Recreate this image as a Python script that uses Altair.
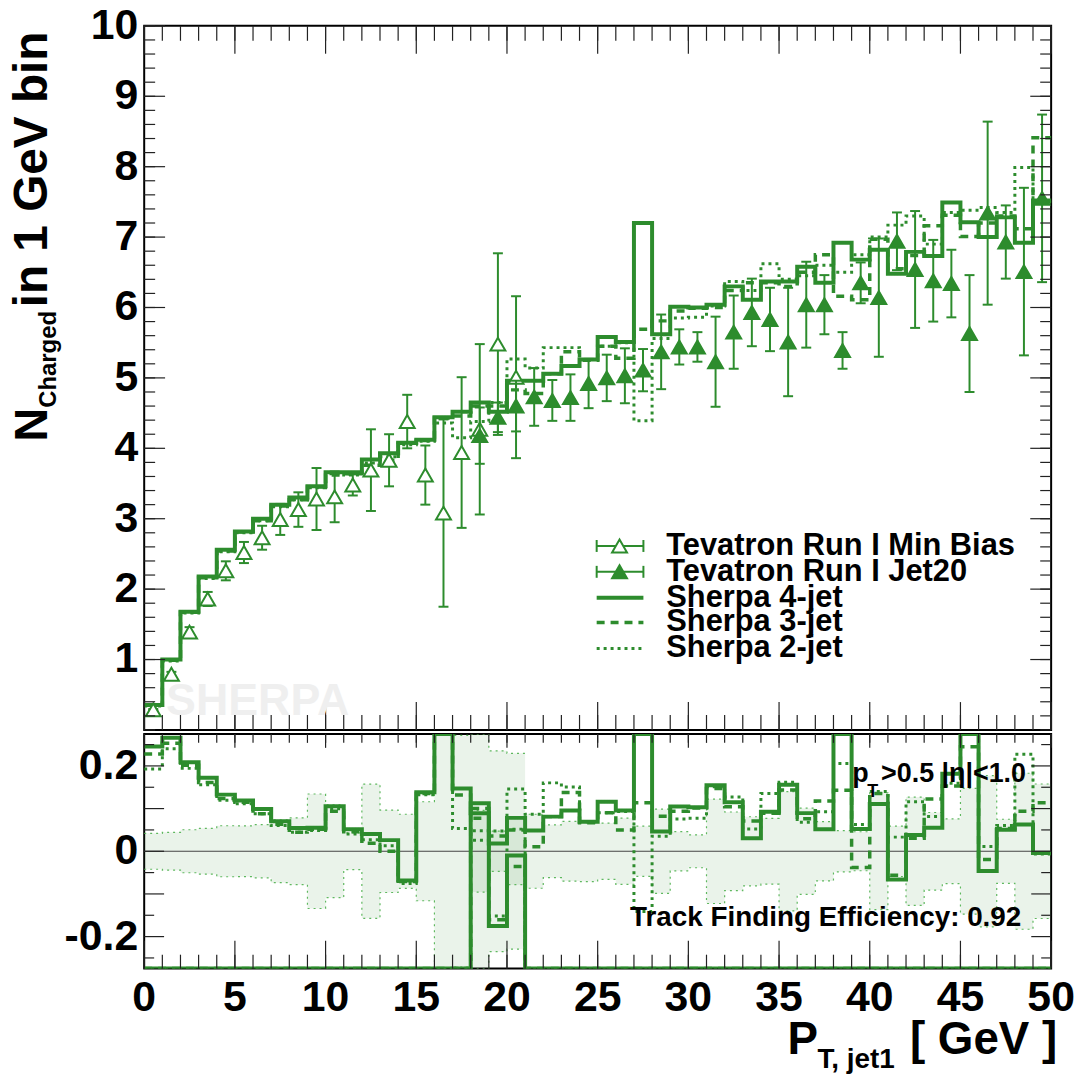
import altair as alt
import pandas as pd

GREEN = "#2d8c2d"
FONT = "Liberation Sans"
W, H1, H2 = 912, 708, 236

# ---------------- data ----------------
bin_edges = list(range(51))

sherpa_4jet = [0.355, 1.00, 1.68, 2.18, 2.56, 2.82, 3.00, 3.20, 3.30, 3.46,
               3.66, 3.66, 3.84, 3.93, 4.08, 4.12, 4.44, 4.52, 4.65, 4.52,
               4.96, 4.96, 5.06, 5.17, 5.26, 5.58, 5.51, 7.20, 5.62, 6.01,
               6.00, 6.04, 6.30, 6.11, 6.37, 6.37, 6.58, 6.35, 6.92, 6.68,
               6.82, 6.48, 6.79, 6.73, 7.49, 7.21, 7.00, 7.28, 6.92, 7.52]
sherpa_3jet = [0.350, 0.99, 1.67, 2.16, 2.54, 2.81, 2.97, 3.18, 3.27, 3.45,
               3.62, 3.64, 3.76, 3.83, 4.07, 4.11, 4.43, 4.46, 4.60, 4.60,
               4.83, 4.78, 5.06, 5.37, 5.25, 5.45, 5.28, 5.69, 5.81, 5.95,
               5.99, 6.00, 6.24, 6.35, 6.35, 6.30, 6.50, 6.75, 6.16, 6.11,
               6.97, 6.55, 6.74, 7.16, 7.31, 7.01, 7.20, 7.30, 7.12, 8.41]
sherpa_2jet = [0.340, 0.98, 1.66, 2.15, 2.53, 2.80, 2.97, 3.17, 3.27, 3.44,
               3.64, 3.62, 3.79, 3.88, 4.05, 4.10, 4.36, 4.15, 4.38, 4.65,
               5.27, 5.14, 5.43, 5.43, 5.26, 5.45, 5.50, 4.39, 5.56, 5.85,
               5.86, 6.02, 6.37, 6.24, 6.62, 6.40, 6.45, 6.60, 6.50, 6.75,
               7.00, 7.17, 7.30, 6.90, 7.35, 7.38, 7.42, 7.35, 7.99, 7.50]

mb_x = [0.5, 1.5, 2.5, 3.5, 4.5, 5.5, 6.5, 7.5, 8.5, 9.5, 10.5,
        11.5, 12.5, 13.5, 14.5, 15.5, 16.5, 17.5, 18.5, 19.5, 20.5]
mb_y = [0.285, 0.79, 1.39, 1.86, 2.26, 2.52, 2.73, 2.99, 3.13, 3.28, 3.31,
        3.48, 3.69, 3.83, 4.38, 3.62, 3.08, 3.94, 4.27, 5.48, 5.01]
mb_err = [0.012, 0.035, 0.07, 0.10, 0.135, 0.15, 0.17, 0.22, 0.245, 0.44, 0.36,
          0.15, 0.58, 0.37, 0.38, 0.42, 1.33, 1.07, 1.21, 1.29, 1.15]

j20_x = [18.5, 19.5, 20.5, 21.5, 22.5, 23.5, 24.5, 25.5, 26.5, 27.5, 28.5,
         29.5, 30.5, 31.5, 32.5, 33.5, 34.5, 35.5, 36.5, 37.5, 38.5, 39.5,
         40.5, 41.5, 42.5, 43.5, 44.5, 45.5, 46.5, 47.5, 48.5, 49.5]
j20_y = [4.18, 4.44, 4.60, 4.73, 4.68, 4.72, 4.92, 5.00, 5.03, 5.11, 5.37,
         5.44, 5.44, 5.23, 5.65, 5.93, 5.83, 5.51, 6.04, 6.04, 5.39, 6.35,
         6.14, 6.94, 6.54, 6.38, 6.34, 5.63, 7.34, 6.93, 6.51, 7.55]
j20_err = [0.40, 0.21, 0.36, 0.41, 0.29, 0.33, 0.35, 0.33, 0.39, 0.30, 0.53,
           0.25, 0.21, 0.64, 0.52, 0.48, 0.45, 0.77, 0.61, 0.42, 0.26, 0.29,
           0.84, 0.41, 0.83, 0.58, 0.48, 0.83, 1.30, 0.52, 1.19, 1.19]

x_tick_labels = [0, 5, 10, 15, 20, 25, 30, 35, 40, 45, 50]
x_minor = list(range(51))
y_main_labels = [1, 2, 3, 4, 5, 6, 7, 8, 9, 10]
y_main_minor = [round(0.2 * i, 1) for i in range(51)]
y_ratio_labels = [-0.2, 0.0, 0.2]
y_ratio_text = ["-0.2", "0", "0.2"]
y_ratio_major = [-0.2, -0.1, 0.0, 0.1, 0.2]
y_ratio_minor = [-0.25, -0.15, -0.05, 0.05, 0.15, 0.25]

legend_labels = ["Tevatron Run I Min Bias", "Tevatron Run I Jet20",
                 "Sherpa 4-jet", "Sherpa 3-jet", "Sherpa 2-jet"]

series = [("Sherpa 2-jet", sherpa_2jet, [3, 4], 3),
          ("Sherpa 3-jet", sherpa_3jet, [8, 6], 3.5),
          ("Sherpa 4-jet", sherpa_4jet, [1, 0], 4)]

# ---------------- tables ----------------
mc_rows = []
for name, vals, _, _ in series:
    for i, v in enumerate(vals):
        mc_rows.append({"x": bin_edges[i], "v": v, "s": name})
    mc_rows.append({"x": bin_edges[len(vals)], "v": vals[-1], "s": name})
mc_df = pd.DataFrame(mc_rows)

ratio_rows = []
for name, vals, _, _ in series:
    mbr, jr = [], []
    for i, v in enumerate(vals):
        mbr.append(v / mb_y[i] - 1 if i < len(mb_y) else -1.0)
        jr.append(v / j20_y[i - 18] - 1 if i >= 18 else -1.0)
    for key, arr in (("mb", mbr), ("j20", jr)):
        for i, r in enumerate(arr):
            ratio_rows.append({"x": bin_edges[i], "r": r, "s": name, "c": name + key})
        ratio_rows.append({"x": bin_edges[len(arr)], "r": arr[-1], "s": name, "c": name + key})
ratio_df = pd.DataFrame(ratio_rows)

band_rows = []
for key, xs_, ys_, es_ in (("mb", mb_x, mb_y, mb_err), ("j20", j20_x, j20_y, j20_err)):
    for xc, y, e in zip(xs_, ys_, es_):
        band_rows.append({"x": xc - 0.5, "lo": -e / y, "hi": e / y, "b": key})
    band_rows.append({"x": xs_[-1] + 0.5, "lo": -es_[-1] / ys_[-1], "hi": es_[-1] / ys_[-1], "b": key})
band_df = pd.DataFrame(band_rows)

mb_df = pd.DataFrame({"x": mb_x, "y": mb_y,
                      "lo": [y - e for y, e in zip(mb_y, mb_err)],
                      "hi": [y + e for y, e in zip(mb_y, mb_err)]})
j20_df = pd.DataFrame({"x": j20_x, "y": j20_y,
                       "lo": [y - e for y, e in zip(j20_y, j20_err)],
                       "hi": [y + e for y, e in zip(j20_y, j20_err)]})

# ---------------- scales ----------------
XS = alt.Scale(domain=[0, 50], nice=False, zero=False)
YM = alt.Scale(domain=[0, 10], nice=False, zero=False)
YR = alt.Scale(domain=[-0.275, 0.275], nice=False, zero=False, clamp=True)

ONE = pd.DataFrame({"a": [0]})


def txt(text, x, y, size, angle=0, align="left", baseline="alphabetic",
        color="black", weight="bold"):
    props = dict(font=FONT, fontSize=size, fontWeight=weight, color=color,
                 align=align, baseline=baseline)
    if angle:
        props["angle"] = angle
    return alt.Chart(pd.DataFrame({"t": [text]})).mark_text(**props).encode(
        text="t:N", x=alt.value(x), y=alt.value(y))


def ticks_y(vals, scale, x0, x1):
    return alt.Chart(pd.DataFrame({"t": vals})).mark_rule(
        color="#222222", strokeWidth=1.2).encode(
        y=alt.Y("t:Q", scale=scale, axis=None), x=alt.value(x0), x2=alt.value(x1))


def ticks_x(vals, y0, y1):
    return alt.Chart(pd.DataFrame({"t": vals})).mark_rule(
        color="#222222", strokeWidth=1.2).encode(
        x=alt.X("t:Q", scale=XS, axis=None), y=alt.value(y0), y2=alt.value(y1))


LBL = dict(font=FONT, fontSize=43, fontWeight="bold", color="black")

# ---------------- main panel ----------------
main_layers = []
for name, vals, dash, sw in series:
    main_layers.append(
        alt.Chart(mc_df).transform_filter(alt.datum.s == name).mark_line(
            interpolate="step-after", color=GREEN, strokeWidth=sw, strokeDash=dash).encode(
            x=alt.X("x:Q", scale=XS, axis=None),
            y=alt.Y("v:Q", scale=YM, axis=None)))

for df, filled in ((mb_df, False), (j20_df, True)):
    main_layers.append(alt.Chart(df).mark_rule(color=GREEN, strokeWidth=2).encode(
        x=alt.X("x:Q", scale=XS, axis=None), y=alt.Y("lo:Q", scale=YM, axis=None), y2="hi:Q"))
    for f in ("lo", "hi"):
        main_layers.append(alt.Chart(df).mark_tick(
            orient="horizontal", size=10, thickness=2, color=GREEN, opacity=1).encode(
            x=alt.X("x:Q", scale=XS, axis=None), y=alt.Y(f + ":Q", scale=YM, axis=None)))
    main_layers.append(alt.Chart(df).mark_point(
        shape="triangle-up", size=225, fill=GREEN if filled else "white",
        stroke=GREEN, strokeWidth=2, opacity=1, fillOpacity=1).encode(
        x=alt.X("x:Q", scale=XS, axis=None), y=alt.Y("y:Q", scale=YM, axis=None)))

# ticks (inward) main panel
main_layers += [
    ticks_y(y_main_labels, YM, 0, 21), ticks_y(y_main_minor, YM, 0, 11),
    ticks_y(y_main_labels, YM, W, W - 21), ticks_y(y_main_minor, YM, W, W - 11),
    ticks_x(x_tick_labels, H1, H1 - 28), ticks_x(x_minor, H1, H1 - 15),
    ticks_x(x_tick_labels, 0, 28), ticks_x(x_minor, 0, 15),
]
# y tick labels
main_layers.append(alt.Chart(pd.DataFrame({"t": y_main_labels})).mark_text(
    align="right", baseline="middle", **LBL).encode(
    y=alt.Y("t:Q", scale=YM, axis=None), x=alt.value(-6), text=alt.Text("t:Q", format="d")))

# watermark
main_layers.append(txt("SHERPA", 22, 693, 45, color="#efefef"))

# legend
ly = [523, 549, 575, 600, 626]
for k in range(2):
    y = ly[k]
    main_layers.append(alt.Chart(ONE).mark_rule(color=GREEN, strokeWidth=2).encode(
        x=alt.value(455), x2=alt.value(502), y=alt.value(y)))
    for cx in (455, 502):
        main_layers.append(alt.Chart(ONE).mark_rule(color=GREEN, strokeWidth=2).encode(
            x=alt.value(cx), y=alt.value(y - 6), y2=alt.value(y + 6)))
    main_layers.append(alt.Chart(ONE).mark_point(
        shape="triangle-up", size=225, fill=GREEN if k == 1 else "white",
        stroke=GREEN, strokeWidth=2, opacity=1, fillOpacity=1).encode(
        x=alt.value(478), y=alt.value(y)))
leg_lines = [(ly[2], [1, 0], 4), (ly[3], [8, 6], 3.5), (ly[4], [3, 4], 3)]
for y, dash, sw in leg_lines:
    main_layers.append(alt.Chart(ONE).mark_rule(
        color=GREEN, strokeWidth=sw, strokeDash=dash).encode(
        x=alt.value(455), x2=alt.value(502), y=alt.value(y)))
for y, lab in zip(ly, legend_labels):
    main_layers.append(txt(lab, 525, y, 31, baseline="middle"))

# y title
main_layers.append(txt("N", -98, 418, 47, angle=270))
main_layers.append(txt("Charged", -89, 384, 24, angle=270))
main_layers.append(txt("in 1 GeV bin", -98, 283, 48, angle=270))

# canvas anchor (white, defines the page's top/left/right extent)
main_layers.append(alt.Chart(ONE).mark_rule(color="white", strokeWidth=1).encode(
    x=alt.value(-143), x2=alt.value(W + 21), y=alt.value(-21.5)))

main = alt.layer(*main_layers).properties(width=W, height=H1)

# ---------------- ratio panel ----------------
rl = []
rl.append(alt.Chart(band_df).mark_area(
    interpolate="step-after", color=GREEN, opacity=0.1, clip=True).encode(
    x=alt.X("x:Q", scale=XS, axis=None),
    y=alt.Y("lo:Q", scale=YR, axis=None),
    y2="hi:Q", detail="b:N"))
for f in ("lo", "hi"):
    rl.append(alt.Chart(band_df).mark_line(
        interpolate="step-after", color="#5fb85f", strokeWidth=1.2, strokeDash=[2, 4],
        clip=True).encode(
        x=alt.X("x:Q", scale=XS, axis=None), y=alt.Y(f + ":Q", scale=YR, axis=None),
        detail="b:N"))
rl.append(alt.Chart(pd.DataFrame({"z": [0.0]})).mark_rule(color="#444444", strokeWidth=1.2).encode(
    y=alt.Y("z:Q", scale=YR, axis=None)))
for name, vals, dash, sw in series:
    rl.append(alt.Chart(ratio_df).transform_filter(alt.datum.s == name).mark_line(
        interpolate="step-after", color=GREEN, strokeWidth=sw, strokeDash=dash, clip=True).encode(
        x=alt.X("x:Q", scale=XS, axis=None), y=alt.Y("r:Q", scale=YR, axis=None),
        detail="c:N"))
rl += [
    ticks_y(y_ratio_major, YR, 0, 20), ticks_y(y_ratio_minor, YR, 0, 10),
    ticks_y(y_ratio_major, YR, W, W - 20), ticks_y(y_ratio_minor, YR, W, W - 10),
    ticks_x(x_tick_labels, H2, H2 - 28), ticks_x(x_minor, H2, H2 - 14),
    ticks_x(x_tick_labels, 0, 14), ticks_x(x_minor, 0, 9),
]
# tick labels
rl.append(alt.Chart(pd.DataFrame({"t": y_ratio_labels, "s": y_ratio_text})).mark_text(
    align="right", baseline="middle", **LBL).encode(
    y=alt.Y("t:Q", scale=YR, axis=None), x=alt.value(-6), text="s:N"))
rl.append(alt.Chart(pd.DataFrame({"t": x_tick_labels})).mark_text(
    align="center", baseline="top", **LBL).encode(
    x=alt.X("t:Q", scale=XS, axis=None), y=alt.value(H2 + 9), text=alt.Text("t:Q", format="d")))

rl.append(txt("p", 712, 48, 27))
rl.append(txt("T", 727, 63, 18))
rl.append(txt(">0.5 |\u03b7|<1.0", 741, 48, 27))
rl.append(txt("Track Finding Efficiency: 0.92", 882, 193, 28, align="right"))
# x title
rl.append(txt("P", 647, 322, 46))
rl.append(txt("T, jet1", 677, 336, 28))
rl.append(txt("[ GeV ]", 770, 322, 46))
# bottom anchor
rl.append(alt.Chart(ONE).mark_rule(color="white", strokeWidth=1).encode(
    x=alt.value(0), x2=alt.value(W), y=alt.value(H2 + 107.5)))

ratio = alt.layer(*rl).properties(width=W, height=H2)

chart = alt.vconcat(main, ratio, spacing=0).properties(
    padding=0,
    background="white",
).configure_view(stroke="black", strokeWidth=2)

chart.save("out.html", embed_options={"renderer": "svg", "actions": False})
